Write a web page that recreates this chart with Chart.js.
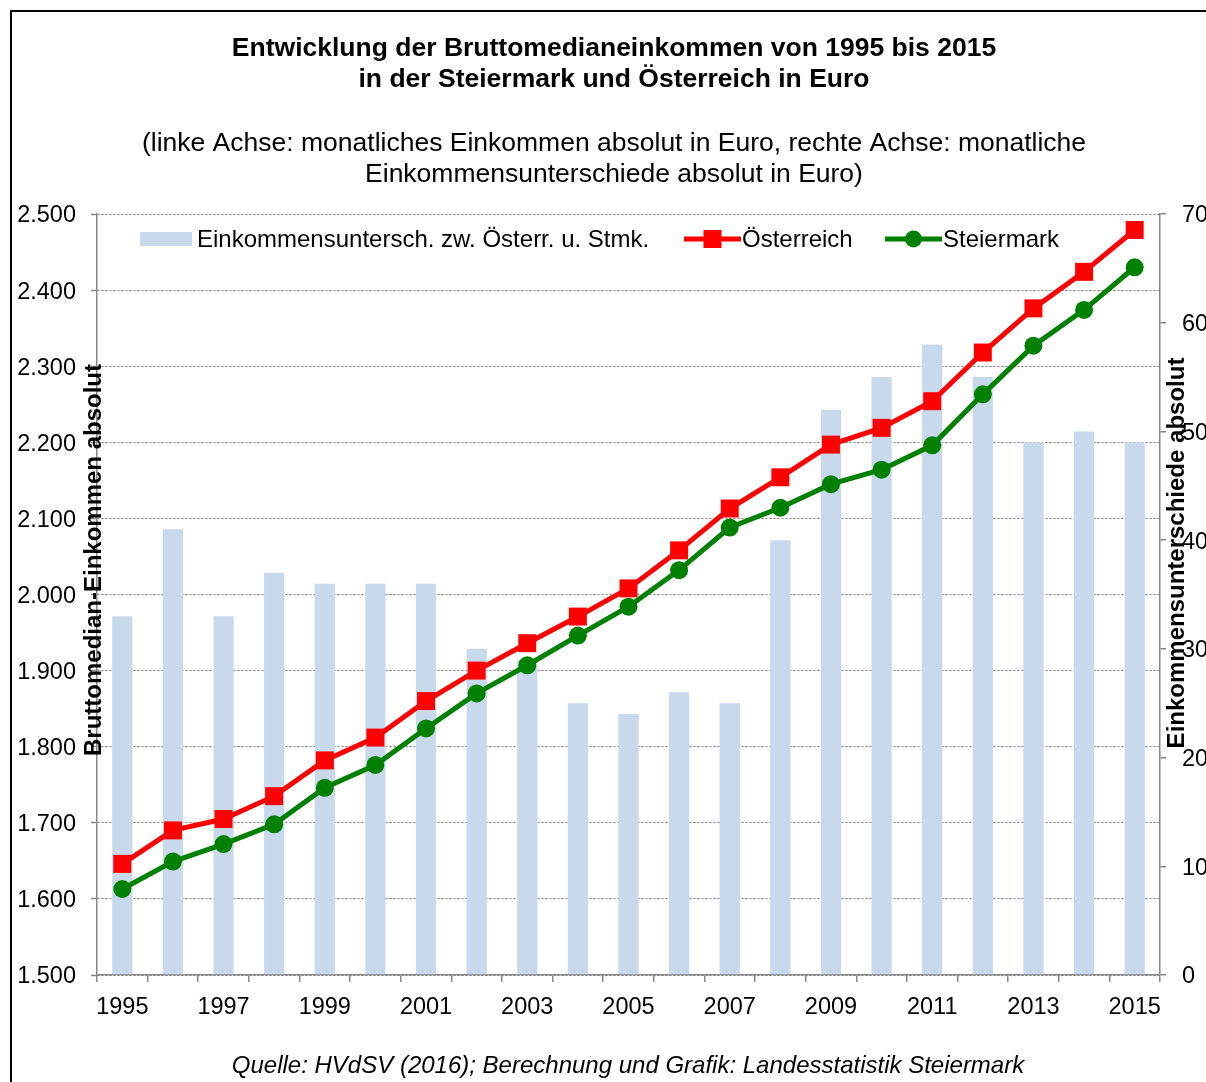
<!DOCTYPE html>
<html>
<head>
<meta charset="utf-8">
<script src="https://cdn.jsdelivr.net/npm/chart.js@4/dist/chart.umd.min.js"></script>
<style>
  html, body { margin: 0; padding: 0; background: #fff; }
  canvas { display: block; }
</style>
</head>
<body>
<canvas id="c" width="1206" height="1082"></canvas>
<script>
// ---------- data ----------
const years = ['1995','1996','1997','1998','1999','2000','2001','2002','2003','2004','2005','2006','2007','2008','2009','2010','2011','2012','2013','2014','2015'];
const oesterreich = [1646, 1690, 1705, 1735, 1782, 1812, 1860, 1900, 1936, 1971, 2008, 2058, 2113, 2154, 2197, 2219, 2254, 2318, 2376, 2424, 2479];
const steiermark  = [1613, 1649, 1672, 1698, 1746, 1776, 1824, 1870, 1907, 1946, 1984, 2032, 2088, 2114, 2145, 2164, 2196, 2263, 2327, 2374, 2430];
const unterschied = [33, 41, 33, 37, 36, 36, 36, 30, 29, 25, 24, 26, 25, 40, 52, 55, 58, 55, 49, 50, 49];

const titleLines = ['Entwicklung der Bruttomedianeinkommen von 1995 bis 2015', 'in der Steiermark und Österreich in Euro'];
const subtitleLines = ['(linke Achse: monatliches Einkommen absolut in Euro, rechte Achse: monatliche', 'Einkommensunterschiede absolut in Euro)'];
const footerText = 'Quelle: HVdSV (2016); Berechnung und Grafik: Landesstatistik Steiermark';
const leftAxisTitle = 'Bruttomedian-Einkommen absolut';
const rightAxisTitle = 'Einkommensunterschiede absolut';
const seriesNames = ['Einkommensuntersch. zw. Österr. u. Stmk.', 'Österreich', 'Steiermark'];

// ---------- styles ----------
const FONT = '"Liberation Sans", Arial, sans-serif';
const AXIS_GRAY = '#868686';
const BAR_COLOR = '#C9D9EC';
const RED = '#FF0000';
const GREEN = '#008000';

function fmtThousands(v) {
  const n = Math.round(v);
  if (n < 1000) return String(n);
  return Math.floor(n / 1000) + '.' + String(n % 1000).padStart(3, '0');
}

const decor = {
  id: 'decor',
  beforeDraw(chart) {
    const ctx = chart.ctx;
    ctx.save();
    ctx.fillStyle = '#fff';
    ctx.fillRect(0, 0, chart.width, chart.height);
    ctx.restore();
  },
  afterDraw(chart) {
    const ctx = chart.ctx;
    ctx.save();
    // outer frame
    ctx.strokeStyle = '#000';
    ctx.lineWidth = 2;
    ctx.strokeRect(11, 11, chart.width + 20, chart.height + 20);

    ctx.fillStyle = '#000';
    ctx.textAlign = 'center';
    ctx.textBaseline = 'middle';
    // title
    ctx.font = 'bold 26.5px ' + FONT;
    ctx.fillText(titleLines[0], 614, 49);
    ctx.fillText(titleLines[1], 614, 80);
    // subtitle
    ctx.font = '26.5px ' + FONT;
    ctx.fillText(subtitleLines[0], 614, 144);
    ctx.fillText(subtitleLines[1], 614, 175);
    // footer
    ctx.font = 'italic 24px ' + FONT;
    ctx.fillText(footerText, 628, 1066);

    // axis titles
    ctx.font = 'bold 24px ' + FONT;
    ctx.save();
    ctx.translate(94, 560);
    ctx.rotate(-Math.PI / 2);
    ctx.fillText(leftAxisTitle, 0, 0);
    ctx.restore();
    ctx.save();
    ctx.translate(1177, 553);
    ctx.rotate(-Math.PI / 2);
    ctx.fillText(rightAxisTitle, 0, 0);
    ctx.restore();

    // legend (inside plot area)
    const ly = 239;
    ctx.font = '24px ' + FONT;
    ctx.textAlign = 'left';
    ctx.fillStyle = BAR_COLOR;
    ctx.fillRect(140, ly - 7, 52, 14);
    ctx.fillStyle = '#000';
    ctx.fillText(seriesNames[0], 197, ly + 1);
    ctx.strokeStyle = RED;
    ctx.lineWidth = 5;
    ctx.beginPath(); ctx.moveTo(684, ly); ctx.lineTo(741, ly); ctx.stroke();
    ctx.fillStyle = RED;
    ctx.fillRect(712.5 - 9, ly - 9, 18, 18);
    ctx.fillStyle = '#000';
    ctx.fillText(seriesNames[1], 742, ly + 1);
    ctx.strokeStyle = GREEN;
    ctx.beginPath(); ctx.moveTo(885, ly); ctx.lineTo(942, ly); ctx.stroke();
    ctx.fillStyle = GREEN;
    ctx.beginPath(); ctx.arc(913.5, ly, 8.5, 0, Math.PI * 2); ctx.fill();
    ctx.fillStyle = '#000';
    ctx.fillText(seriesNames[2], 943, ly + 1);
    ctx.restore();
  }
};

new Chart(document.getElementById('c'), {
  data: {
    labels: years,
    datasets: [
      {
        type: 'line',
        label: seriesNames[2],
        data: steiermark,
        yAxisID: 'y',
        borderColor: GREEN,
        backgroundColor: GREEN,
        borderWidth: 5,
        pointStyle: 'circle',
        pointRadius: 9,
        pointBorderWidth: 0,
        pointBackgroundColor: GREEN,
        tension: 0,
        clip: false,
        order: 1
      },
      {
        type: 'line',
        label: seriesNames[1],
        data: oesterreich,
        yAxisID: 'y',
        borderColor: RED,
        backgroundColor: RED,
        borderWidth: 5,
        pointStyle: 'rect',
        pointRadius: 12.7,
        pointBorderWidth: 0,
        pointBackgroundColor: RED,
        tension: 0,
        clip: false,
        order: 2
      },
      {
        type: 'bar',
        label: seriesNames[0],
        data: unterschied,
        yAxisID: 'y1',
        backgroundColor: BAR_COLOR,
        borderWidth: 0,
        barPercentage: 0.4,
        categoryPercentage: 1.0,
        order: 3
      }
    ]
  },
  options: {
    responsive: false,
    animation: false,
    devicePixelRatio: 1,
    layout: { padding: { top: 214, left: 0, right: 0, bottom: 0 } },
    plugins: {
      legend: { display: false },
      tooltip: { enabled: false },
      title: { display: false }
    },
    scales: {
      x: {
        type: 'category',
        offset: true,
        afterFit(scale) { scale.height = 107; },
        grid: {
          offset: true,
          drawOnChartArea: false,
          drawTicks: true,
          tickLength: 7,
          color: AXIS_GRAY,
          lineWidth: 1.5
        },
        border: { display: true, color: AXIS_GRAY, width: 1.5 },
        ticks: {
          autoSkip: false,
          maxRotation: 0,
          minRotation: 0,
          padding: 11,
          color: '#000',
          font: { family: FONT, size: 23.5 },
          callback: function (val, idx) { return idx % 2 === 0 ? years[idx] : ''; }
        }
      },
      y: {
        position: 'left',
        min: 1500,
        max: 2500,
        afterFit(scale) { scale.width = 97; },
        grid: {
          drawOnChartArea: true,
          drawTicks: true,
          tickLength: 6,
          color: '#7a7a7a',
          lineWidth: 1,
          tickColor: AXIS_GRAY,
          tickWidth: 1.5
        },
        border: { display: true, color: AXIS_GRAY, width: 1.5, dash: [2, 2] },
        ticks: {
          stepSize: 100,
          padding: 15,
          labelOffset: 2,
          color: '#000',
          font: { family: FONT, size: 23.5 },
          callback: (v) => fmtThousands(v)
        }
      },
      y1: {
        position: 'right',
        min: 0,
        max: 70,
        afterFit(scale) { scale.width = 46; },
        grid: {
          drawOnChartArea: false,
          drawTicks: true,
          tickLength: 6,
          color: AXIS_GRAY,
          lineWidth: 1.5
        },
        border: { display: true, color: AXIS_GRAY, width: 1.5 },
        ticks: {
          stepSize: 10,
          padding: 16,
          labelOffset: 2,
          color: '#000',
          font: { family: FONT, size: 23.5 }
        }
      }
    }
  },
  plugins: [decor]
});
</script>
</body>
</html>
